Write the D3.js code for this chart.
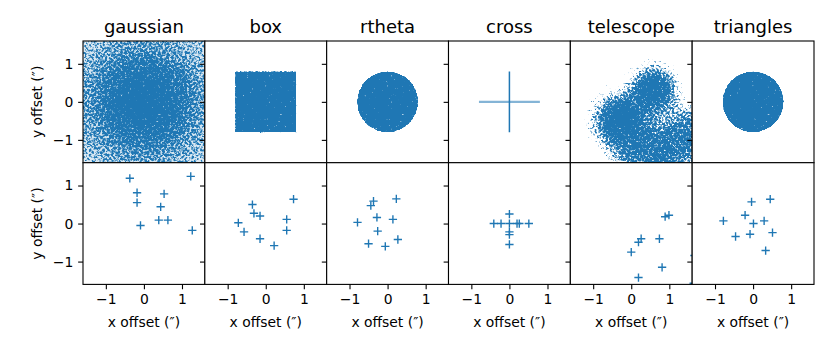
<!DOCTYPE html>
<html><head><meta charset="utf-8">
<script src="https://cdn.jsdelivr.net/npm/d3@7"></script>
<style>
body{margin:0;background:#fff}
svg{display:block}
text{font-family:"DejaVu Sans",sans-serif;fill:#000}
</style>
</head><body>
<svg id="chart" width="830" height="343"></svg>
<script>
// ---------- data ----------
const panelTitles = ["gaussian", "box", "rtheta", "cross", "telescope", "triangles"];
const axisRange = [-1.6, 1.6];
const tickValues = [-1, 0, 1];
const tickLabels = ["\u22121", "0", "1"];
const xLabel = "x offset (\u2033)";
const yLabel = "y offset (\u2033)";

const gaussianX  = [-0.37, -0.18, -0.18, -0.09, 0.44, 0.53, 0.39, 0.63, 1.23, 1.27];
const gaussianY  = [ 1.19,  0.81,  0.55, -0.05, 0.44, 0.78, 0.09, 0.09, 1.24, -0.18];
const boxX       = [-0.72, -0.57, -0.35, -0.31, -0.15, -0.15, 0.22, 0.55, 0.55, 0.73];
const boxY       = [ 0.02, -0.22,  0.50,  0.27,  0.20, -0.40, -0.58, 0.11, -0.18, 0.64];
const rthetaX    = [-0.37, -0.44,  0.23, -0.79, -0.28,  0.14, -0.26, 0.27, -0.50, -0.06];
const rthetaY    = [ 0.59,  0.47,  0.65,  0.03,  0.16,  0.11, -0.20, -0.42, -0.53, -0.60];
const crossX     = [ 0.00,  0.00,  0.00,  0.00,  0.00, -0.41, -0.22, 0.20, 0.26, 0.51];
const crossY     = [ 0.25,  0.00, -0.22, -0.29, -0.55,  0.00,  0.00, 0.00, 0.00, 0.00];
const telescopeX = [ 0.00,  0.19,  0.26,  0.19,  0.74,  0.81,  0.89, 0.99, 1.66, 1.64];
const telescopeY = [-0.75, -0.49, -0.40, -1.42, -0.40, -1.15,  0.18, 0.22, -0.84, -1.57];
const trianglesX = [-0.78, -0.46, -0.21, -0.08, -0.04,  0.01,  0.29, 0.33, 0.45, 0.51];
const trianglesY = [ 0.07, -0.34,  0.22, -0.28,  0.57,  0.00,  0.07, -0.71, 0.64, -0.24];

// top row: dense-sample footprints
const gaussianDensity = [[0, 1.0], [0.5, 0.95], [1.0, 0.82], [1.4, 0.68], [1.8, 0.58], [2.3, 0.48]]; // [radius, density]
const boxExtent = [-0.8, 0.8];
const diskRadius = 0.8;          // rtheta and triangles
const crossHalfLength = 0.8;
const telescopeBlobs = [          // [x, y, sigma, peak]
  [0.58, 0.32, 0.30, 1.0],
  [-0.25, -0.52, 0.37, 1.0],
  [1.40, -0.90, 0.40, 0.8],
  [0.40, -1.55, 0.42, 0.8]
];
const blobProfile = [[0, 1], [0.8, 0.96], [1.3, 0.82], [1.8, 0.6], [2.4, 0.3], [3, 0]]; // [sigma units, density]

const bottomX = [gaussianX, boxX, rthetaX, crossX, telescopeX, trianglesX];
const bottomY = [gaussianY, boxY, rthetaY, crossY, telescopeY, trianglesY];

// ---------- layout ----------
const C = "#1f77b4";
const L = 83, T = 41, W = (814 - 83) / 6, H = 121.7;
const TICK = 4.86, PAD = 4.86;

const svg = d3.select("#chart");
const x = d3.scaleLinear().domain(axisRange).range([0, W]);
const y = d3.scaleLinear().domain(axisRange).range([H, 0]);

const defs = svg.append("defs");
defs.append("clipPath").attr("id", "clip")
  .append("rect").attr("x", 0).attr("y", 0).attr("width", W).attr("height", H);

// speckle filter: turns a density (alpha) into a scattered-point texture
const f = defs.append("filter").attr("id", "speckle")
  .attr("filterUnits", "userSpaceOnUse")
  .attr("x", 0).attr("y", 0).attr("width", W).attr("height", H)
  .attr("color-interpolation-filters", "sRGB");
f.append("feTurbulence").attr("type", "fractalNoise").attr("baseFrequency", 0.45)
  .attr("numOctaves", 2).attr("seed", 7).attr("result", "noise");
f.append("feColorMatrix").attr("in", "noise").attr("type", "matrix")
  .attr("values", "0 0 0 0 0  0 0 0 0 0  0 0 0 0 0  1 0 0 0 0").attr("result", "na");
f.append("feComposite").attr("in", "SourceGraphic").attr("in2", "na")
  .attr("operator", "arithmetic").attr("k1", 0).attr("k2", 4).attr("k3", -5).attr("k4", 0.6)
  .attr("result", "mask");
f.append("feFlood").attr("flood-color", C).attr("result", "col");
f.append("feComposite").attr("in", "col").attr("in2", "mask").attr("operator", "in");

// gaussian density gradient (mask) and its faint wash
const rMax = gaussianDensity[gaussianDensity.length - 1][0];
function gaussGradient(id, color, k) {
  const gr = defs.append("radialGradient").attr("id", id)
    .attr("gradientUnits", "userSpaceOnUse")
    .attr("cx", x(0)).attr("cy", y(0)).attr("r", x(rMax) - x(0));
  gr.selectAll("stop").data(gaussianDensity).join("stop")
    .attr("offset", d => d[0] / rMax)
    .attr("stop-color", color).attr("stop-opacity", d => d[1] * k);
}
gaussGradient("gaussGrad", "#fff", 1);
gaussGradient("gaussWash", C, 0.3);

// blob profile gradient
const pMax = blobProfile[blobProfile.length - 1][0];
const bg = defs.append("radialGradient").attr("id", "blobGrad");
bg.selectAll("stop").data(blobProfile).join("stop")
  .attr("offset", d => d[0] / pMax)
  .attr("stop-color", "#fff").attr("stop-opacity", d => d[1]);

function drawTop(g, name) {
  const c = g.append("g").attr("clip-path", "url(#clip)");
  if (name === "cross") {
    c.append("line").attr("x1", x(-crossHalfLength)).attr("x2", x(crossHalfLength))
      .attr("y1", y(0)).attr("y2", y(0))
      .attr("stroke", C).attr("stroke-opacity", 0.55).attr("stroke-width", 2.2);
    c.append("line").attr("x1", x(0)).attr("x2", x(0))
      .attr("y1", y(crossHalfLength)).attr("y2", y(-crossHalfLength))
      .attr("stroke", C).attr("stroke-width", 1.5);
    return;
  }
  if (name === "gaussian") {
    c.append("rect").attr("x", 0).attr("y", 0).attr("width", W).attr("height", H)
      .attr("fill", "url(#gaussWash)");
  }
  const s = c.append("g").attr("filter", "url(#speckle)");
  if (name === "gaussian") {
    s.append("rect").attr("x", 0).attr("y", 0).attr("width", W).attr("height", H)
      .attr("fill", "url(#gaussGrad)");
  } else if (name === "box") {
    s.append("rect").attr("x", x(boxExtent[0])).attr("y", y(boxExtent[1]))
      .attr("width", x(boxExtent[1]) - x(boxExtent[0]))
      .attr("height", y(boxExtent[0]) - y(boxExtent[1]))
      .attr("fill", "#fff");
  } else if (name === "rtheta" || name === "triangles") {
    s.append("circle").attr("cx", x(0)).attr("cy", y(0))
      .attr("r", x(diskRadius) - x(0)).attr("fill", "#fff");
  } else if (name === "telescope") {
    s.selectAll("circle").data(telescopeBlobs).join("circle")
      .attr("cx", d => x(d[0])).attr("cy", d => y(d[1]))
      .attr("r", d => x(d[2] * pMax) - x(0))
      .attr("fill", "url(#blobGrad)").attr("fill-opacity", d => d[3]);
  }
}

function drawBottom(g, i) {
  const c = g.append("g").attr("clip-path", "url(#clip)");
  const pts = bottomX[i].map((v, k) => [v, bottomY[i][k]]);
  const m = 4.15;
  c.selectAll("path").data(pts).join("path")
    .attr("d", d => `M${x(d[0]) - m},${y(d[1])}h${2 * m}M${x(d[0])},${y(d[1]) - m}v${2 * m}`)
    .attr("stroke", C).attr("stroke-width", 1.39).attr("fill", "none");
}

function styleAxis(a) {
  a.select(".domain").remove();
  a.selectAll(".tick line").attr("stroke", "#000").attr("stroke-width", 1.1);
  a.selectAll(".tick text").attr("font-family", "DejaVu Sans").attr("font-size", 13.9).attr("fill", "#000");
}

for (let r = 0; r < 2; r++) {
  panelTitles.forEach((name, i) => {
    const g = svg.append("g").attr("transform", `translate(${L + i * W},${T + r * H})`);
    g.append("rect").attr("width", W).attr("height", H).attr("fill", "#fff");
    if (r === 0) drawTop(g, name); else drawBottom(g, i);
    g.append("rect").attr("width", W).attr("height", H)
      .attr("fill", "none").attr("stroke", "#000").attr("stroke-width", 1.1);
    const ya = g.append("g").call(
      d3.axisLeft(y).tickValues(tickValues).tickSize(TICK).tickPadding(PAD)
        .tickFormat((d, k) => i === 0 ? tickLabels[k] : ""));
    styleAxis(ya);
    if (r === 1) {
      const xa = g.append("g").attr("transform", `translate(0,${H})`).call(
        d3.axisBottom(x).tickValues(tickValues).tickSize(TICK).tickPadding(PAD)
          .tickFormat((d, k) => tickLabels[k]));
      styleAxis(xa);
      g.append("text").attr("x", W / 2).attr("y", H + 42.3).attr("text-anchor", "middle")
        .attr("font-size", 13.9).text(xLabel);
    } else {
      g.append("text").attr("x", W / 2).attr("y", -8.5).attr("text-anchor", "middle")
        .attr("font-size", 18).text(name);
    }
    if (i === 0) {
      g.append("text").attr("transform", `translate(${41.7 - L},${H / 2}) rotate(-90)`)
        .attr("text-anchor", "middle").attr("font-size", 13.9).text(yLabel);
    }
  });
}
</script>
</body></html>
